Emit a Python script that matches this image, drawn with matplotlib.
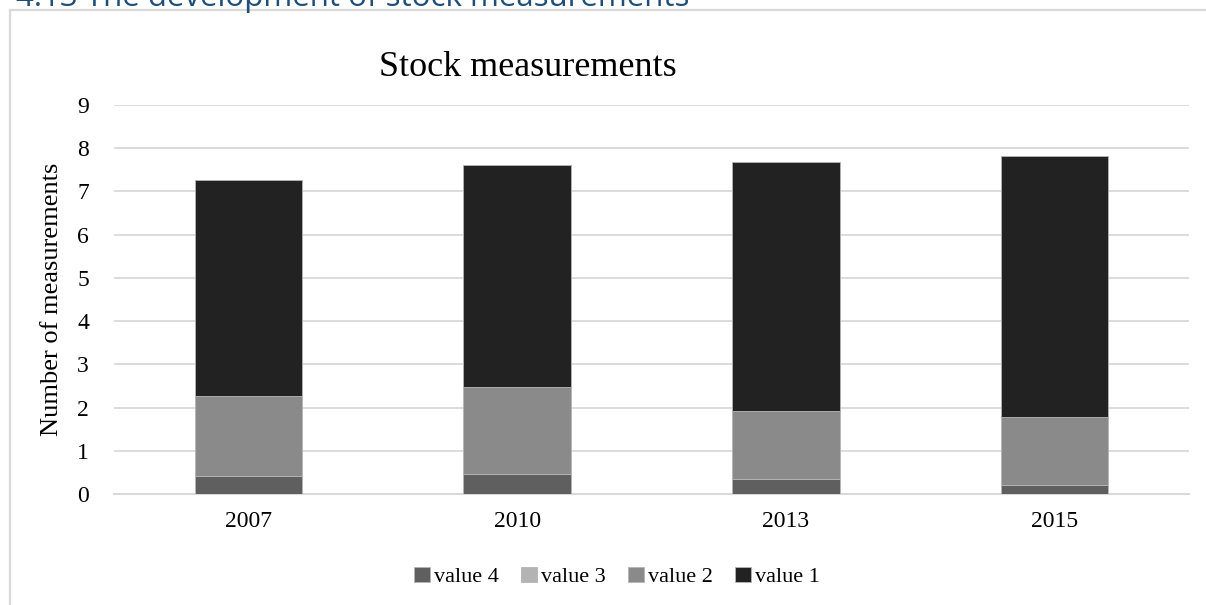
import matplotlib.pyplot as plt
import numpy as np

years = ["2007", "2010", "2013", "2015"]
value4 = [0.41, 0.47, 0.34, 0.21]
value3 = [0.0, 0.0, 0.0, 0.0]
value2 = [1.86, 2.01, 1.58, 1.56]
value1 = [5.00, 5.14, 5.77, 6.06]

series = [
    ("value 4", value4, "#5f5f5f"),
    ("value 3", value3, "#b3b3b3"),
    ("value 2", value2, "#8a8a8a"),
    ("value 1", value1, "#222222"),
]

plt.rcParams["font.family"] = ["Liberation Serif", "DejaVu Serif"]

fig = plt.figure(figsize=(12.06, 6.05), dpi=100)
ax = fig.add_axes([0.0945, 0.1835, 0.8914, 0.6429])

x = np.arange(len(years))
bottom = np.zeros(len(years))
for name, vals, color in series:
    vals = np.array(vals)
    ax.bar(x, vals, width=0.4, bottom=bottom, color=color, label=name,
           edgecolor="#b5b5b5", linewidth=0.6, zorder=3)
    bottom += vals

ax.set_xlim(-0.5, len(years) - 0.5)
ax.set_ylim(0, 9)
ax.set_yticks(range(0, 10))
ax.set_xticks(x)
ax.set_xticklabels(years)
ax.tick_params(axis="both", length=0, labelsize=17, colors="black")
ax.tick_params(axis="x", pad=12)
ax.tick_params(axis="y", pad=18)
ax.grid(axis="y", color="#d9d9d9", linewidth=1.3, zorder=0)
for side in ["top", "right", "left"]:
    ax.spines[side].set_visible(False)
ax.spines["bottom"].set_color("#d9d9d9")
ax.spines["bottom"].set_linewidth(1.5)

ax.set_ylabel("Number of measurements", fontsize=19, labelpad=10)

fig.text(528 / 1206, 1 - 68 / 605, "Stock measurements", fontsize=26,
         ha="center", va="center")

handles, labels = ax.get_legend_handles_labels()
fig.legend(handles, labels, loc="center", bbox_to_anchor=(617 / 1206, 1 - 577 / 605),
           ncol=4, frameon=False, fontsize=16, handlelength=0.7, handleheight=0.7,
           handletextpad=0.2, columnspacing=1.0, borderaxespad=0)

# section heading above the chart frame
fig.text(16 / 1206, 1 - 6 / 605, "4.13 The development of stock measurements",
         fontsize=22.5, family="Open Sans", color="#1f4e79", ha="left", va="baseline")

# light chart frame
fig.add_artist(plt.Line2D([10 / 1206, 10 / 1206], [0, 1 - 10 / 605],
                          transform=fig.transFigure, color="#d9d9d9", linewidth=1.6))
fig.add_artist(plt.Line2D([10 / 1206, 1], [1 - 10 / 605, 1 - 10 / 605],
                          transform=fig.transFigure, color="#d9d9d9", linewidth=1.6))

fig.savefig("out.png", dpi=100)
